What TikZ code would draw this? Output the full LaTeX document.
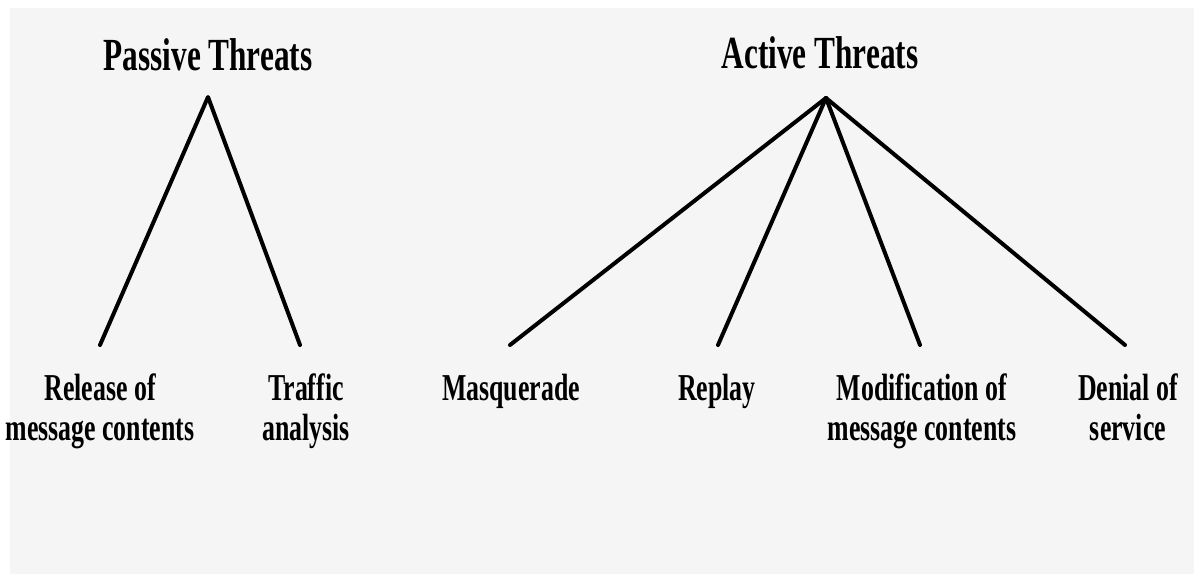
\documentclass[tikz,border=0pt]{standalone}
\usepackage{fontspec}
\newfontfamily\condserif{Liberation Serif}[FakeStretch=0.68]
\definecolor{panel}{HTML}{F5F5F5}
\begin{document}
\begin{tikzpicture}[x=1pt,y=-1pt,
  branch/.style={line width=4pt,line cap=round,line join=round},
  heading/.style={inner sep=0pt,anchor=base,font=\condserif\bfseries\fontsize{46}{48}\selectfont},
  leaf/.style={inner sep=0pt,anchor=base,align=center,font=\condserif\bfseries\fontsize{38}{40}\selectfont}]
  % canvas and grey panel
  \useasboundingbox (0,0) rectangle (1194,574);
  \fill[white] (0,0) rectangle (1194,574);
  \fill[panel] (10,8) rectangle (1194,574);

  % headings
  \node[heading] (passive) at (208,70) {Passive Threats};
  \node[heading] (active) at (820,68) {Active Threats};

  % apexes of the two trees
  \coordinate (papex) at (208,97);
  \coordinate (aapex) at (826,98);

  % leaf labels (base anchor sits on the last line)
  \node[leaf] (release) at (100,440) {Release of\\message contents};
  \node[leaf] (traffic) at (306,440) {Traffic\\analysis};
  \node[leaf] (masq) at (511,400) {Masquerade};
  \node[leaf] (replay) at (717,400) {Replay};
  \node[leaf] (modif) at (922,440) {Modification of\\message contents};
  \node[leaf] (denial) at (1128,440) {Denial of\\service};

  % ends of the branches just above the leaves
  \coordinate (releaseTop) at (100,345);
  \coordinate (trafficTop) at (300,345);
  \coordinate (masqTop) at (510,345);
  \coordinate (replayTop) at (718,345);
  \coordinate (modifTop) at (920,345);
  \coordinate (denialTop) at (1125,345);

  % branches
  \draw[branch] (releaseTop) -- (papex) -- (trafficTop);
  \draw[branch] (masqTop) -- (aapex);
  \draw[branch] (replayTop) -- (aapex);
  \draw[branch] (modifTop) -- (aapex);
  \draw[branch] (denialTop) -- (aapex);
\end{tikzpicture}
\end{document}
